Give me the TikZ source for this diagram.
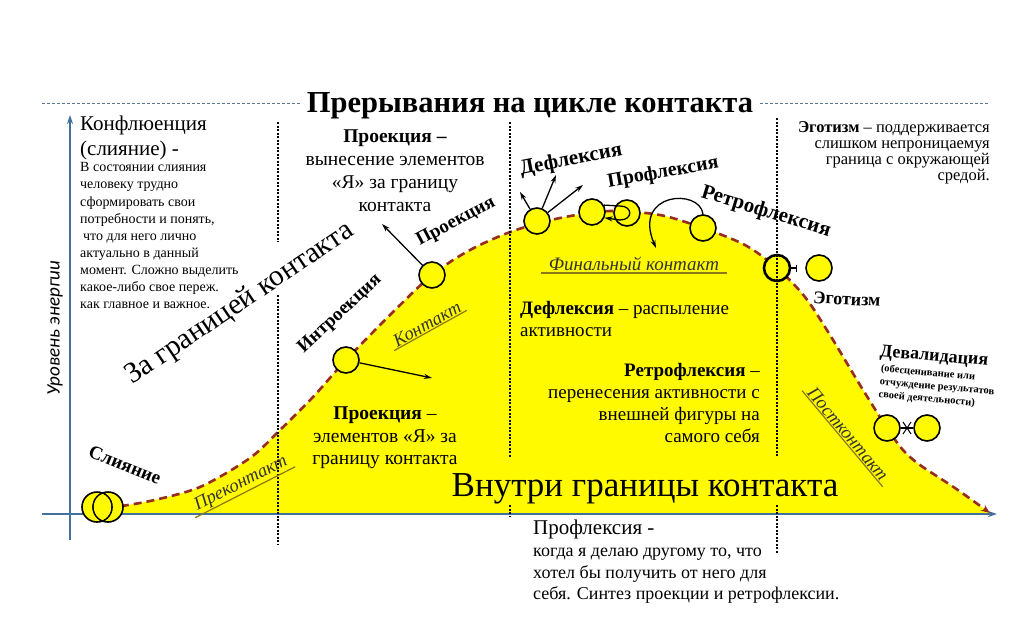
\documentclass[tikz,border=0pt]{standalone}
\usepackage{fontspec}
\setmainfont{Liberation Serif}
\newfontfamily\axisfont{Carlito}
\usetikzlibrary{arrows.meta}
\definecolor{fillyel}{RGB}{255,250,0}
\definecolor{curvered}{RGB}{150,45,30}
\definecolor{axisblue}{RGB}{65,113,156}
\definecolor{lineolive}{RGB}{140,120,20}

\begin{document}
\begin{tikzpicture}[x=1pt,y=-1pt,
    ball/.style={circle,draw,fill=fillyel,line width=1.6pt,minimum size=26pt,inner sep=0pt},
    sep/.style={dash pattern=on 2pt off 1.5pt,line width=1.1pt},
    tag/.style={font=\bfseries\fontsize{19}{19}\selectfont},
    phase/.style={font=\itshape\fontsize{18.5}{18.5}\selectfont,text=black!80,inner sep=1pt},
    uline/.style={lineolive,line width=1.2pt},
    arr/.style={-{Stealth[length=8pt,width=5pt]},line width=1.3pt}]

\useasboundingbox (0,0) rectangle (1024,618);

   % area under the curve
   \fill[fillyel] plot[smooth] coordinates {(108,508) (150,501) (200,487) (250,458) (280,430) (313,397) (346,360) (390,315) (432,275) (470,250) (513,231) (560,218) (610,211) (660,215) (703,228) (745,245) (777,268) (805,297) (830,335) (860,385) (887,428) (903,450) (920,465) (955,488) (990,513)} -- (990,514) -- (100,514) -- cycle;

   \draw[axisblue!60!gray,dash pattern=on 3pt off 2pt,line width=1pt] (42,103) -- (300,103);
   \draw[axisblue!60!gray,dash pattern=on 3pt off 2pt,line width=1pt] (760,103) -- (990,103);
   \draw[axisblue,line width=1.6pt,-{Stealth[length=9pt,width=6pt]}] (42,514) -- (997,514);
   \draw[axisblue,line width=1.6pt,-{Stealth[length=9pt,width=6pt]}] (70,540) -- (70,115);

   \draw[curvered,line width=2.6pt,dash pattern=on 8pt off 5pt,-{Stealth[length=9pt,width=7pt]}] plot[smooth] coordinates {(108,508) (150,501) (200,487) (250,458) (280,430) (313,397) (346,360) (390,315) (432,275) (470,250) (513,231) (560,218) (610,211) (660,215) (703,228) (745,245) (777,268) (805,297) (830,335) (860,385) (887,428) (903,450) (920,465) (955,488) (990,513)};

   % circles
   \node[ball,draw=none,minimum size=30pt] (mA) at (97,507) {};
   \node[ball,draw=none,minimum size=30pt] (mB) at (108,507) {};
   \draw[line width=1.6pt] (mA.center) circle[radius=15pt] (mB.center) circle[radius=15pt];
   \begin{scope}
     \clip (mA.center) circle[radius=14.2pt];
     \fill[fillyel] (mB.center) circle[radius=14.2pt];
     \draw[dotted,line width=1pt] (mB.center) circle[radius=15pt];
   \end{scope}
   \begin{scope}
     \clip (mB.center) circle[radius=14.2pt];
     \draw[dotted,line width=1pt] (mA.center) circle[radius=15pt];
   \end{scope}

   \node[ball] (intro) at (346,360) {};
   \node[ball] (proj) at (432,275) {};
   \node[ball] (defl) at (537,221) {};
   \node[ball] (profA) at (592,212) {};
   \node[ball] (profB) at (627,213) {};
   \node[ball] (retro) at (703,228) {};
   \node[ball,line width=2.6pt] (egoA) at (777,268) {};
   \node[ball] (egoB) at (819,268) {};
   \node[ball] (devA) at (887,428) {};
   \node[ball] (devB) at (927,428) {};

   \draw[sep] (278,122) -- (278,242);
   \draw[sep] (278,295) -- (278,545);
   \draw[sep] (510,122) -- (510,457);
   \draw[sep] (510,505) -- (510,516);
   \draw[sep] (777,118) -- (777,457);
   \draw[sep] (777,505) -- (777,553);

   % arrows
   \coordinate (projto) at (382,224);
   \coordinate (introto) at (432,378);
   \coordinate (d1) at (520,192);
   \coordinate (d2) at (556,175);
   \coordinate (d3) at (583,185);
   \coordinate (retroto) at (656,248);
   \draw[arr] (proj) -- (projto);
   \draw[arr] (intro) -- (introto);
   \draw[arr] (defl) -- (d1);
   \draw[arr] (defl) -- (d2);
   \draw[arr] (defl) -- (d3);
   \draw[arr] (profA.30) -- (620,206) .. controls (633,206) and (633,220) .. (620,220) -- (profA.-25);
   \draw[arr] (retro.north) .. controls (700,188) and (632,192) .. (retroto);
   \draw[line width=1.4pt,-{Bar[width=7pt]}] (egoA) -- (797,268);
   \coordinate (devmid) at (907,428);
   \draw[line width=1.4pt] (devA) -- (devB);
   \draw[line width=1pt] ([shift={(-4,-6)}]devmid) -- ([shift={(4,6)}]devmid);
   \draw[line width=1pt] ([shift={(4,-6)}]devmid) -- ([shift={(-4,6)}]devmid);

   % texts
   \node[anchor=base,font=\bfseries\fontsize{30.5}{30.5}\selectfont] (title) at (530,112) {Прерывания на цикле контакта};

   \node[anchor=north west,align=left,inner sep=0pt,font=\fontsize{21}{25}\selectfont] (conf) at (80,116) {Конфлюенция\\(слияние) -};
   \node[anchor=north west,align=left,inner sep=0pt,font=\fontsize{14}{17.1}\selectfont] (confdef) at (80,162.5) {В состоянии слияния\\человеку трудно\\сформировать свои\\потребности и понять,\\\hspace{3pt}что для него лично\\актуально в данный\\момент. Сложно выделить\\какое-либо свое переж.\\как главное и важное.};

   \node[rotate=90,font=\axisfont\itshape\fontsize{19}{19}\selectfont] (level) at (55,328) {Уровень энергии};
   \node[rotate=34,font=\fontsize{29.5}{29.5}\selectfont] (outside) at (240,304) {За границей контакта};

   \node[tag,rotate=-22] (mergelbl) at (125,465) {Слияние};
   \node[phase,rotate=27,inner xsep=5pt] (pre) at (241,484) {Преконтакт};
   \draw[uline] (pre.south west) -- (pre.south east);

   \node[tag,rotate=43] (introlbl) at (340,314) {Интроекция};
   \node[tag,rotate=28] (projlbl) at (456,222) {Проекция};
   \node[phase,rotate=29,inner xsep=4pt] (cont) at (427,324) {Контакт};
   \draw[uline] (cont.south west) -- (cont.south east);

   \node[anchor=north,align=center,inner sep=0pt,font=\fontsize{19.5}{23}\selectfont] (projdef) at (395,130) {\textbf{Проекция –}\\вынесение элементов\\«Я» за границу\\контакта};
   \node[anchor=north,align=center,inner sep=0pt,font=\fontsize{19.5}{22.5}\selectfont] (projdefb) at (385,407) {\textbf{Проекция} –\\элементов «Я» за\\границу контакта};

   \node[tag,font=\bfseries\fontsize{21}{21}\selectfont,rotate=11] (defllbl) at (571,160) {Дефлексия};
   \node[tag,font=\bfseries\fontsize{20}{20}\selectfont,rotate=10] (proflbl) at (663,173) {Профлексия};
   \node[tag,font=\bfseries\fontsize{21}{21}\selectfont,rotate=-17] (retrolbl) at (766,212) {Ретрофлексия};

   \node[phase,font=\itshape\fontsize{19}{19}\selectfont,inner xsep=8pt,inner ysep=2pt] (final) at (634,264) {Финальный контакт};
   \draw[uline] (final.south west) -- (final.south east);

   \node[anchor=north west,align=left,inner sep=0pt,font=\fontsize{19}{22}\selectfont] (defldef) at (520,301.5) {\textbf{Дефлексия} – распыление\\активности};
   \node[anchor=north east,align=right,inner sep=0pt,font=\fontsize{19}{22}\selectfont] (retrodef) at (760,363.5) {\textbf{Ретрофлексия} –\\перенесения активности с\\внешней фигуры на\\самого себя};

   \node[anchor=base,font=\fontsize{35}{35}\selectfont] (inside) at (645,496) {Внутри границы контакта};

   \node[anchor=base west,inner sep=0pt,font=\fontsize{21}{21}\selectfont] (profhead) at (533,534) {Профлексия -};
   \node[anchor=north west,align=left,inner sep=0pt,font=\fontsize{18}{21.5}\selectfont] (profdef) at (533,548) {когда я делаю другому то, что\\хотел бы получить от него для\\себя. Синтез проекции и ретрофлексии.};

   \node[anchor=north east,align=right,inner sep=0pt,font=\fontsize{16.5}{16.2}\selectfont] (egodef) at (990,121) {\textbf{Эготизм} – поддерживается\\слишком непроницаемуя\\граница с окружающей\\средой.};
   \node[tag,font=\bfseries\fontsize{18}{18}\selectfont,rotate=-3] (egolbl) at (847,299) {Эготизм};

   \node[tag,font=\bfseries\fontsize{18}{18}\selectfont,rotate=-5] (devlbl) at (934,357) {Девалидация};
   \node[rotate=-5,align=left,inner sep=0pt,font=\bfseries\fontsize{10.5}{13}\selectfont] (devdef) at (937,387) {(обесценивание или\\отчуждение результатов\\своей деятельности)};
   \node[phase,rotate=-50,inner xsep=5pt] (post) at (848,434) {Постконтакт};
   \draw[uline] (post.south west) -- (post.south east);

\end{tikzpicture}
\end{document}
